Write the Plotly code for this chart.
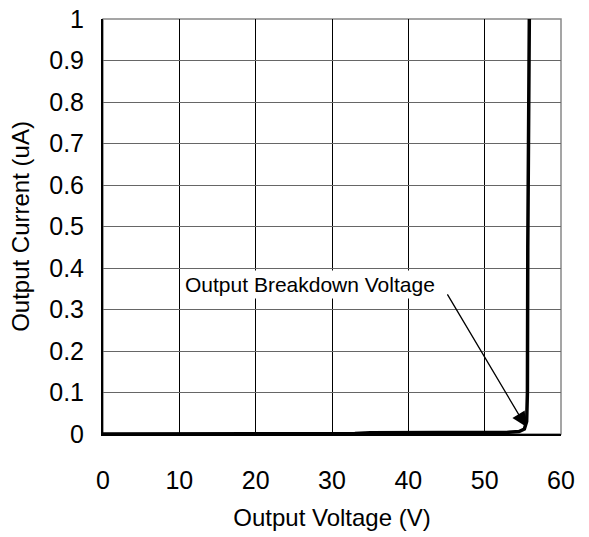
import plotly.graph_objects as go

voltage = [0, 10, 20, 30, 33, 35, 40, 45, 50, 53, 54.5, 55.2, 55.5, 55.6, 55.65, 55.75, 55.85]
current = [0, 0, 0, 0, 0.001, 0.003, 0.003, 0.003, 0.003, 0.004, 0.006, 0.012, 0.03, 0.1, 0.45, 0.7, 1.0]

x_ticks = [0, 10, 20, 30, 40, 50, 60]
y_ticks = [0, 0.1, 0.2, 0.3, 0.4, 0.5, 0.6, 0.7, 0.8, 0.9, 1]
y_labels = ["0", "0.1", "0.2", "0.3", "0.4", "0.5", "0.6", "0.7", "0.8", "0.9", "1"]

label_text = "Output Breakdown Voltage"
label_pos = (27.1, 0.361)
arrow_tail = (45.0, 0.34)
arrow_head = (55.4, 0.018)

font = "Liberation Sans, Arial, sans-serif"

fig = go.Figure()
fig.add_trace(go.Scatter(x=voltage, y=current, mode="lines",
                         line=dict(color="black", width=3.5), showlegend=False,
                         hoverinfo="skip"))

fig.add_annotation(x=label_pos[0], y=label_pos[1], xref="x", yref="y",
                   text=label_text, showarrow=False, bgcolor="white",
                   font=dict(family=font, size=21, color="black"),
                   borderpad=2)
fig.add_annotation(x=arrow_head[0], y=arrow_head[1], xref="x", yref="y",
                   ax=arrow_tail[0], ay=arrow_tail[1], axref="x", ayref="y",
                   text="", showarrow=True, arrowhead=2, arrowsize=2.2,
                   arrowwidth=1.3, arrowcolor="black")

fig.update_xaxes(range=[0, 60], tickvals=x_ticks, showgrid=True,
                 gridcolor="black", gridwidth=1, zeroline=False,
                 showline=True, linecolor="black", linewidth=2, mirror=False,
                 ticks="", ticklen=0, automargin=False, ticklabelstandoff=23,
                 ticklabeloverflow="allow",
                 tickfont=dict(family=font, size=25, color="black"),
                 title=dict(text="Output Voltage (V)", font=dict(family=font, size=24, color="black"),
                            standoff=16))
fig.update_yaxes(range=[0, 1], tickvals=y_ticks, ticktext=y_labels, showgrid=True,
                 gridcolor="#666666", gridwidth=1, zeroline=False,
                 showline=True, linecolor="black", linewidth=2,
                 ticks="", ticklen=0, automargin=False, ticklabelstandoff=12,
                 ticklabeloverflow="allow",
                 tickfont=dict(family=font, size=25, color="black"),
                 title=dict(text="Output Current (uA)", font=dict(family=font, size=24, color="black"),
                            standoff=13))

fig.add_shape(type="rect", xref="paper", yref="paper", x0=0, y0=0, x1=1, y1=1,
              line=dict(color="#888888", width=1.5), layer="below")

fig.update_layout(width=589, height=537, plot_bgcolor="white", paper_bgcolor="white",
                  margin=dict(l=103, r=28, t=19, b=103),
                  font=dict(family=font, color="black"))

fig.write_html("out.html", config={"displayModeBar": False},
               post_script="document.body.style.margin='0';document.body.style.overflow='hidden';")
